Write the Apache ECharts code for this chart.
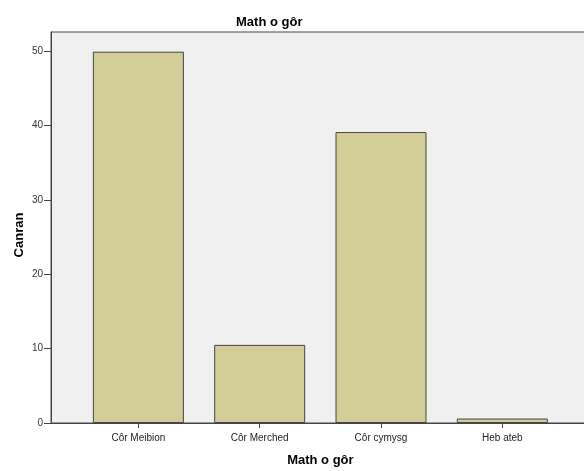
<!DOCTYPE html>
<html><head><meta charset="utf-8">
<script src="https://cdn.jsdelivr.net/npm/echarts@6/dist/echarts.min.js"></script>
<style>html,body{margin:0;padding:0;background:#fff}#c{width:584px;height:471px}</style>
</head><body><div id="c"></div>
<script>
const categories = ['Côr Meibion', 'Côr Merched', 'Côr cymysg', 'Heb ateb'];
const percentValues = [49.9, 10.5, 39.1, 0.6];
const yTicks = [0, 10, 20, 30, 40, 50];

const FONT = 'Liberation Sans';
const YMAX = 52.55;
const chart = echarts.init(document.getElementById('c'));
chart.setOption({
  animation: false,
  backgroundColor: '#ffffff',
  title: {
    text: 'Math o gôr', left: 231, top: 11,
    textStyle: { fontFamily: FONT, fontSize: 13, fontWeight: 'bold', color: '#000' }
  },
  grid: [
    { left: 51, right: -5, top: 32, bottom: 48, show: true, backgroundColor: '#f0f0f0', borderColor: '#444', borderWidth: 1, outerBoundsMode: 'none', containLabel: false },
    { left: 77.7, width: 485.3, top: 32, bottom: 48, outerBoundsMode: 'none', containLabel: false }
  ],
  xAxis: [
    { gridIndex: 0, type: 'value', min: 0, max: 1, axisLine: { show: true, lineStyle: { color: '#444', width: 1 } },
      axisTick: { show: false }, axisLabel: { show: false }, splitLine: { show: false } },
    { gridIndex: 1, type: 'category', data: categories,
      axisLine: { show: false },
      axisTick: { show: true, alignWithLabel: true, length: 5, lineStyle: { color: '#444' } },
      axisLabel: { fontFamily: FONT, fontSize: 10, color: '#222', margin: 10 },
      name: 'Math o gôr', nameLocation: 'middle', nameGap: 31, nameMoveOverlap: false,
      nameTextStyle: { fontFamily: FONT, fontSize: 13, fontWeight: 'bold', color: '#000' } }
  ],
  yAxis: [
    { gridIndex: 0, type: 'value', min: 0, max: YMAX, interval: 10,
      axisLine: { show: true, lineStyle: { color: '#444', width: 1 } },
      axisTick: { show: true, length: 7, lineStyle: { color: '#444' }, customValues: yTicks },
      axisLabel: { fontFamily: FONT, fontSize: 10, color: '#333', margin: 8, customValues: yTicks },
      splitLine: { show: false },
      name: 'Canran', nameLocation: 'middle', nameGap: 25, nameMoveOverlap: false,
      nameTextStyle: { fontFamily: FONT, fontSize: 13, fontWeight: 'bold', color: '#000', padding: [0, 15, 0, 0] } },
    { gridIndex: 1, type: 'value', min: 0, max: YMAX, show: false, splitLine: { show: false } }
  ],
  series: [{
    type: 'bar', xAxisIndex: 1, yAxisIndex: 1, data: percentValues,
    barCategoryGap: '25%',
    itemStyle: { color: '#d3ce97', borderColor: '#444', borderWidth: 1 }
  }]
});
</script></body></html>
